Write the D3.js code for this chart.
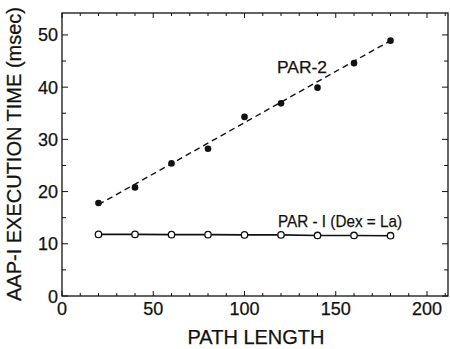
<!DOCTYPE html>
<html>
<head>
<meta charset="utf-8">
<script src="https://cdn.jsdelivr.net/npm/d3@7"></script>
<style>
  body { margin: 0; background: #fff; }
  svg text { font-family: "Liberation Sans", Arial, sans-serif; fill: #111; stroke: #111; stroke-width: 0.25; }
</style>
</head>
<body>
<div id="chart"></div>
<script>
// values
var pathLength = [20, 40, 60, 80, 100, 120, 140, 160, 180]
var par2 = [17.8, 20.8, 25.4, 28.2, 34.3, 36.9, 39.9, 44.6, 48.9]
var par1 = [11.8, 11.8, 11.75, 11.75, 11.7, 11.7, 11.6, 11.6, 11.55]
// dashed fitted line drawn through PAR-2, its two ends
var par2FitX = [20, 180]
var par2FitY = [17.5, 48.9]
var xTickLabels = [0, 50, 100, 150, 200]
var yTickLabels = [0, 10, 20, 30, 40, 50]

var width = 450, height = 349
var margin = { top: 13, right: 2, bottom: 53, left: 62 }

var svg = d3.select("#chart").append("svg")
    .attr("width", width)
    .attr("height", height)

var x = d3.scaleLinear().domain([0, 211.5]).range([margin.left, width - margin.right])
var y = d3.scaleLinear().domain([0, 54.2]).range([height - margin.bottom, margin.top])

var ink = "#111"

// frame
svg.append("rect")
    .attr("x", x(0)).attr("y", y(54.2))
    .attr("width", x(211.5) - x(0)).attr("height", y(0) - y(54.2))
    .attr("fill", "none").attr("stroke", ink).attr("stroke-width", 1.3)

// ticks, all pointing inward
var xMinor = d3.range(0, 211, 10)
var yMinor = d3.range(0, 54, 5)

svg.append("g").selectAll("line").data(xMinor).join("line")
    .attr("x1", d => x(d)).attr("x2", d => x(d))
    .attr("y1", y(0)).attr("y2", d => y(0) - (d % 50 === 0 ? 5 : 3))
    .attr("stroke", ink).attr("stroke-width", 1)

svg.append("g").selectAll("line").data(xMinor).join("line")
    .attr("x1", d => x(d)).attr("x2", d => x(d))
    .attr("y1", y(54.2)).attr("y2", d => y(54.2) + (d % 50 === 0 ? 5 : 3))
    .attr("stroke", ink).attr("stroke-width", 1)

svg.append("g").selectAll("line").data(yMinor).join("line")
    .attr("y1", d => y(d)).attr("y2", d => y(d))
    .attr("x1", x(0)).attr("x2", d => x(0) + (d % 10 === 0 ? 6 : 4))
    .attr("stroke", ink).attr("stroke-width", 1)

svg.append("g").selectAll("line").data(yMinor).join("line")
    .attr("y1", d => y(d)).attr("y2", d => y(d))
    .attr("x1", x(211.5)).attr("x2", d => x(211.5) - (d % 10 === 0 ? 6 : 4))
    .attr("stroke", ink).attr("stroke-width", 1)

// tick labels
svg.append("g").selectAll("text").data(xTickLabels).join("text")
    .attr("x", d => x(d)).attr("y", y(0) + 19)
    .attr("text-anchor", "middle")
    .attr("font-size", 18)
    .text(d => d)

svg.append("g").selectAll("text").data(yTickLabels).join("text")
    .attr("x", x(0) - 4).attr("y", d => y(d) + 6.5)
    .attr("text-anchor", "end")
    .attr("font-size", 18)
    .text(d => d)

// axis titles
svg.append("text")
    .attr("x", (x(0) + x(211.5)) / 2 + 1).attr("y", 344)
    .attr("text-anchor", "middle")
    .attr("font-size", 20)
    .text("PATH LENGTH")

svg.append("text")
    .attr("transform", "translate(21," + 154 + ") rotate(-90)")
    .attr("text-anchor", "middle")
    .attr("font-size", 20)
    .attr("textLength", 294).attr("lengthAdjust", "spacingAndGlyphs")
    .text("AAP-I EXECUTION TIME (msec)")

// series
var line = d3.line().x(d => x(d[0])).y(d => y(d[1]))

svg.append("path")
    .datum(d3.zip(par2FitX, par2FitY))
    .attr("d", line)
    .attr("fill", "none").attr("stroke", ink)
    .attr("stroke-width", 1.4).attr("stroke-dasharray", "6,4")

svg.append("path")
    .datum(d3.zip(pathLength, par1))
    .attr("d", line)
    .attr("fill", "none").attr("stroke", ink)
    .attr("stroke-width", 1.6)

svg.append("g").selectAll("circle").data(d3.zip(pathLength, par2)).join("circle")
    .attr("cx", d => x(d[0])).attr("cy", d => y(d[1]))
    .attr("r", 3.3).attr("fill", ink)

svg.append("g").selectAll("circle").data(d3.zip(pathLength, par1)).join("circle")
    .attr("cx", d => x(d[0])).attr("cy", d => y(d[1]))
    .attr("r", 3.2).attr("fill", "#fff").attr("stroke", ink).attr("stroke-width", 1.3)

// series labels
svg.append("text")
    .attr("x", 277).attr("y", 73)
    .attr("font-size", 17)
    .attr("textLength", 50).attr("lengthAdjust", "spacingAndGlyphs")
    .text("PAR-2")

svg.append("text")
    .attr("x", 278).attr("y", 227)
    .attr("font-size", 17)
    .attr("textLength", 124).attr("lengthAdjust", "spacingAndGlyphs")
    .text("PAR - I (Dex = La)")
</script>
</body>
</html>
